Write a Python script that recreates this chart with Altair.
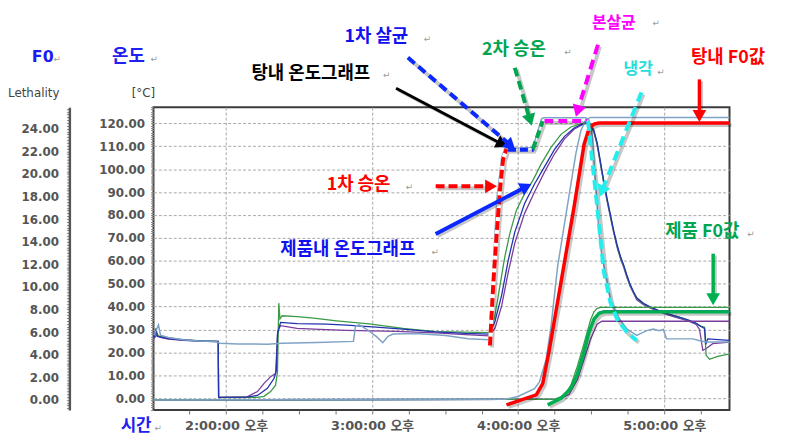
import altair as alt
import pandas as pd

# ---------------- axis ticks ----------------
hour_ticks = [13.75 + 0.25 * i for i in range(15)]            # every 15 min
temp_ticks = list(range(-5, 128))                              # °C ruler ticks
leth_ticks = [round(-0.75 + 0.25 * i, 2) for i in range(107)]  # lethality ruler ticks

# ---------------- product temperature (°C), time in hours of day ----------------
green_temp_h = [13.507, 13.524, 13.537, 13.605, 13.707, 13.808, 13.910, 13.946, 13.949, 14.079,
                14.215, 14.260, 14.305, 14.339, 14.352, 14.361, 14.369, 14.384, 14.486, 14.599,
                14.757, 14.981, 15.211, 15.435, 15.638, 15.801, 15.841, 15.875, 15.909, 15.943,
                15.988, 16.044, 16.101, 16.158, 16.225, 16.293, 16.361, 16.429, 16.473, 16.496,
                16.519, 16.541, 16.564, 16.587, 16.609, 16.632, 16.654, 16.677, 16.700, 16.722,
                16.744, 16.767, 16.790, 16.812, 16.858, 16.903, 16.959, 17.016, 17.068, 17.129,
                17.176, 17.219, 17.251, 17.276, 17.287, 17.310, 17.366, 17.447]
green_temp_c = [27.0, 28.5, 27.2, 26.3, 25.6, 25.1, 24.9, 24.8, 0.4, 0.3,
                0.4, 0.8, 2.9, 5.7, 11.5, 41.5, 34.6, 36.0, 35.6, 35.0,
                33.8, 32.4, 30.5, 29.1, 28.8, 28.6, 36.0, 49.0, 61.9, 72.0,
                82.1, 89.3, 95.1, 102.3, 109.5, 115.2, 118.4, 119.8, 120.4, 119.6,
                116.5, 111.0, 102.5, 94.0, 86.5, 79.5, 72.8, 66.5, 61.5, 57.8,
                53.3, 49.3, 46.2, 43.5, 41.2, 39.8, 38.3, 37.0, 35.9, 34.8,
                33.8, 32.6, 31.5, 31.0, 18.7, 17.0, 18.3, 19.4]

blue_temp_h = [13.507, 13.520, 13.530, 13.605, 13.707, 13.808, 13.910, 13.946, 13.949, 14.147,
               14.215, 14.283, 14.328, 14.344, 14.352, 14.373, 14.486, 14.689, 14.825, 15.028,
               15.211, 15.435, 15.638, 15.801, 15.841, 15.887, 15.931, 15.977, 16.044, 16.112,
               16.180, 16.248, 16.316, 16.383, 16.451, 16.473, 16.496, 16.519, 16.541, 16.564,
               16.587, 16.609, 16.632, 16.654, 16.677, 16.700, 16.722, 16.744, 16.767, 16.790,
               16.812, 16.858, 16.903, 16.959, 17.016, 17.068, 17.129, 17.176, 17.219, 17.251,
               17.276, 17.285, 17.298, 17.447]
blue_temp_c = [26.5, 30.5, 27.0, 26.0, 25.4, 25.0, 24.9, 24.8, 0.4, 0.5,
               1.2, 4.3, 8.6, 12.0, 28.0, 33.1, 32.6, 32.3, 31.9, 31.0,
               30.2, 29.0, 28.3, 28.0, 33.5, 45.0, 60.0, 72.5, 85.0, 93.5,
               101.0, 108.5, 114.2, 118.0, 120.0, 120.4, 119.5, 116.8, 111.5, 103.0,
               94.5, 87.0, 80.0, 73.2, 67.0, 62.0, 58.2, 53.8, 49.6, 46.5,
               43.8, 41.4, 39.9, 38.4, 37.1, 36.0, 34.9, 33.9, 32.7, 31.3,
               30.5, 23.5, 25.9, 25.2]

purple_temp_h = [13.507, 13.524, 13.551, 13.605, 13.707, 13.808, 13.910, 13.946, 13.949, 14.147,
                 14.215, 14.260, 14.305, 14.339, 14.354, 14.373, 14.486, 14.644, 14.825, 15.164,
                 15.435, 15.638, 15.801, 15.841, 15.887, 15.931, 15.977, 16.044, 16.112, 16.180,
                 16.248, 16.316, 16.383, 16.451, 16.473, 16.496, 16.519, 16.541, 16.564, 16.587,
                 16.609, 16.632, 16.654, 16.677, 16.700, 16.722, 16.744, 16.767, 16.790, 16.812,
                 16.858, 16.903, 16.959, 17.016, 17.068, 17.129, 17.176, 17.219, 17.242, 17.264,
                 17.285, 17.332, 17.447]
purple_temp_c = [26.0, 27.5, 26.5, 25.8, 25.3, 24.9, 24.7, 24.6, 0.3, 0.7,
                 2.9, 6.5, 9.4, 10.8, 29.5, 31.7, 30.5, 30.0, 29.6, 29.2,
                 28.5, 27.8, 27.2, 30.5, 40.3, 54.7, 67.7, 80.7, 90.0, 98.7,
                 106.6, 113.1, 117.4, 119.8, 120.3, 119.4, 116.0, 110.5, 102.0, 93.5,
                 86.0, 79.0, 72.3, 66.0, 61.0, 57.3, 52.8, 48.8, 45.8, 43.0,
                 40.8, 39.4, 37.9, 36.6, 35.5, 34.4, 33.4, 32.2, 30.0, 20.9,
                 21.6, 23.8, 24.5]

# ---------------- retort (tank) temperature (°C) ----------------
tank_temp_h = [13.507, 13.524, 13.537, 13.551, 13.605, 13.707, 13.808, 13.930, 13.957, 14.079,
               14.283, 14.384, 14.621, 14.872, 14.886, 14.913, 14.960, 15.028, 15.073, 15.109,
               15.143, 15.299, 15.502, 15.658, 15.801, 15.830, 15.853, 15.887, 15.909, 16.101,
               16.160, 16.173, 16.465, 16.485, 16.507, 16.530, 16.553, 16.573, 16.598, 16.632,
               16.677, 16.744, 16.812, 16.844, 16.880, 16.925, 16.966, 16.993, 17.016, 17.197,
               17.237, 17.287, 17.447]
tank_temp_c = [27.5, 30.0, 32.0, 27.5, 26.5, 25.5, 25.0, 24.8, 24.0, 23.7,
               23.6, 24.0, 24.3, 24.8, 31.5, 32.0, 30.2, 27.0, 24.2, 27.0,
               28.0, 28.2, 27.4, 26.0, 25.5, 57.6, 86.4, 105.1, 109.0, 109.5,
               122.0, 122.4, 122.4, 121.5, 115.0, 93.6, 72.0, 62.0, 54.7, 43.2,
               36.0, 30.2, 27.4, 28.4, 29.5, 30.2, 29.5, 30.0, 25.9, 25.9,
               25.2, 24.5, 24.5]

# ---------------- F0 / lethality ----------------
tank_f0_h = [13.503, 15.909, 15.999, 16.112, 16.146, 16.192, 16.225, 16.270, 16.316, 16.361,
             16.395, 16.429, 16.463, 16.496, 17.447]
tank_f0_l = [0.0, 0.05, 0.3, 1.0, 1.6, 3.6, 6.5, 11.8, 15.5, 19.1,
             21.8, 23.8, 24.8, 25.0, 25.0]
green_f0_h = [13.503, 16.248, 16.316, 16.361, 16.406, 16.451, 16.496, 16.519, 16.541, 16.564, 17.447]
green_f0_l = [0.0, 0.05, 0.4, 1.3, 3.0, 5.0, 7.1, 7.8, 8.1, 8.18, 8.18]
blue_f0_h = [13.503, 16.261, 16.329, 16.383, 16.429, 16.473, 16.519, 16.553, 16.587, 17.447]
blue_f0_l = [0.0, 0.05, 0.5, 1.6, 3.5, 5.6, 7.2, 7.75, 7.88, 7.88]
purple_f0_h = [13.503, 16.282, 16.349, 16.406, 16.451, 16.496, 16.541, 16.573, 17.447]
purple_f0_l = [0.0, 0.05, 0.5, 1.8, 3.6, 5.4, 6.7, 6.96, 6.96]

# hand-drawn highlight of the tank F0 and product F0 curves (lethality)
mark_tank_f0_h = [15.920, 16.124, 16.168, 16.214, 16.293, 16.383, 16.451, 16.485, 16.519, 16.553, 17.447]
mark_tank_f0_l = [-0.44, 0.44, 1.45, 4.5, 10.4, 17.1, 22.6, 24.0, 24.4, 24.5, 24.5]
mark_prod_f0_h = [16.202, 16.293, 16.361, 16.406, 16.451, 16.485, 16.519, 16.553, 16.587, 17.447]
mark_prod_f0_l = [-0.44, 0.15, 1.0, 2.3, 4.24, 6.0, 7.15, 7.65, 7.79, 7.79]

# hand-drawn phase highlights (°C)
heat1_h = [15.807, 15.830, 15.853, 15.875, 15.897, 15.920]
heat1_c = [23.0, 50.4, 72.0, 90.8, 104.4, 108.8]
steril1_h = [15.931, 16.107]
steril1_c = [108.5, 108.5]
heat2_h = [16.101, 16.168]
heat2_c = [108.8, 121.0]
main_h = [16.180, 16.473]
main_c = [121.0, 121.0]
cool_h = [16.478, 16.507, 16.539, 16.563, 16.587, 16.632, 16.677, 16.744, 16.812]
cool_c = [121.0, 103.7, 85.0, 70.0, 55.0, 41.8, 34.6, 28.8, 25.2]

# arrows (shaft start, shaft end, head centre) in hours / °C
arrow_names = ["tank_temp", "steril1", "heat2", "main", "cool", "heat1", "prod_temp", "tank_f0", "prod_f0"]
arrow_h0 = [15.164, 15.245, 15.977, 16.546, 16.844, 15.435, 15.435, 17.241, 17.335]
arrow_c0 = [135.3, 148.7, 144.3, 154.3, 133.5, 92.5, 71.7, 139.2, 63.1]
arrow_h1 = [15.891, 15.929, 16.075, 16.410, 16.580, 15.801, 16.044, 17.241, 17.335]
arrow_c1 = [110.9, 111.5, 122.7, 126.2, 91.6, 92.5, 92.0, 124.5, 44.1]
head_h = [15.891, 15.950, 16.082, 16.407, 16.573, 15.814, 16.055, 17.241, 17.335]
head_c = [110.9, 110.2, 121.4, 125.3, 90.3, 92.5, 92.4, 123.2, 43.2]

# text labels (left edge / middle), hours / °C
label_text = ["F0", "온도", "Lethality", "[°C]", "시간", "탕내 온도그래프", "1차 살균", "2차 승온",
              "본살균", "냉각", "탕내 F0값", "1차 승온", "제품내 온도그래프", "제품 F0값"]
label_h = [12.670, 13.219, 12.507, 13.354, 13.490, 14.174, 14.811, 15.753,
           16.505, 16.722, 17.183, 14.689, 14.371, 17.007]
label_c = [149.1, 149.1, 133.1, 133.1, -12.1, 141.7, 157.7, 152.1,
           164.0, 143.5, 148.7, 92.9, 64.8, 72.6]
para_h = [12.819, 13.483, 15.075, 15.353, 16.316, 16.919, 16.953, 15.231, 15.407, 17.569, 13.510]
para_c = [148.2, 148.2, 140.9, 156.9, 151.3, 164.0, 142.6, 92.0, 64.0, 71.7, -13.0]

# ---------------- styles ----------------
C_GREEN, C_BLUE, C_PURPLE, C_STEEL = "#3a9a45", "#2233b0", "#7b3c9e", "#7fa3c5"
arrow_style = {
    "tank_temp": dict(color="#000000", dash=None, width=3, angle=28),
    "steril1": dict(color="#0a28ff", dash=[9, 5], width=4, angle=41),
    "heat2": dict(color="#00a550", dash=[9, 5], width=4, angle=74),
    "main": dict(color="#ff00ff", dash=[10, 6], width=4, angle=107),
    "cool": dict(color="#22eeee", dash=[10, 6], width=4, angle=112),
    "heat1": dict(color="#ff0000", dash=[9, 4], width=4, angle=0),
    "prod_temp": dict(color="#0a28ff", dash=None, width=4, angle=333),
    "tank_f0": dict(color="#ff0000", dash=None, width=3.5, angle=90),
    "prod_f0": dict(color="#00b050", dash=None, width=3.5, angle=90),
}
KO = "Noto Sans CJK KR"
label_style = {
    "F0": dict(color="#1c1cf0", font="DejaVu Sans", size=16, weight="bold", align="left"),
    "온도": dict(color="#2020f0", font=KO, size=18, weight="bold", align="left"),
    "Lethality": dict(color="#444444", font="DejaVu Sans", size=12, weight="normal", align="left"),
    "[°C]": dict(color="#444444", font="DejaVu Sans", size=12, weight="normal", align="left"),
    "시간": dict(color="#2020f0", font=KO, size=17, weight="bold", align="right"),
    "탕내 온도그래프": dict(color="#000000", font=KO, size=18, weight="bold", align="left"),
    "1차 살균": dict(color="#1010f0", font=KO, size=18, weight="bold", align="left"),
    "2차 승온": dict(color="#00a550", font=KO, size=18, weight="bold", align="left"),
    "본살균": dict(color="#ff00ff", font=KO, size=16, weight="bold", align="left"),
    "냉각": dict(color="#22dddd", font=KO, size=16, weight="bold", align="left"),
    "탕내 F0값": dict(color="#ff0000", font=KO, size=18, weight="bold", align="left"),
    "1차 승온": dict(color="#ff0000", font=KO, size=18, weight="bold", align="left"),
    "제품내 온도그래프": dict(color="#1010f0", font=KO, size=18, weight="bold", align="left"),
    "제품 F0값": dict(color="#00a550", font=KO, size=18, weight="bold", align="left"),
}

# ---------------- scales & axes ----------------
XS = alt.Scale(domain=[13.503, 17.447], nice=False, zero=False)
TS = alt.Scale(domain=[-5.19, 127.04], nice=False, zero=False)
LS = alt.Scale(domain=[-0.90, 25.90], nice=False, zero=False)
LABEL_FONT = "DejaVu Sans, Noto Sans CJK KR"

x_axis = alt.Axis(values=hour_ticks, title=None, domain=False,
                  labelExpr="datum.value % 1 == 0 ? (datum.value - 12) + ':00:00 오후' : ''",
                  grid=True, gridDash=[3, 2], gridColor="#a8a8a8",
                  gridOpacity={"condition": {"test": "datum.value % 1 == 0", "value": 1}, "value": 0},
                  tickSize=4, tickColor="#777777", labelPadding=6, labelFont=LABEL_FONT,
                  labelFontSize=13, labelFontWeight="bold", labelColor="#555555",
                  labelOverlap=False, labelFlush=False)
t_axis = alt.Axis(values=temp_ticks, title=None, domain=False, orient="left",
                  labelExpr="datum.value % 10 == 0 && datum.value >= 0 ? format(datum.value, '.2f') : ''",
                  grid=True, gridDash=[3, 2], gridColor="#a8a8a8",
                  gridOpacity={"condition": {"test": "datum.value % 10 == 0 && datum.value >= 0", "value": 1}, "value": 0},
                  tickSize=3, tickColor="#888888", labelPadding=6, labelFont=LABEL_FONT,
                  labelFontSize=12, labelFontWeight="bold", labelColor="#555555",
                  labelOverlap=False, labelFlush=False)
l_axis = alt.Axis(values=leth_ticks, title=None, orient="left", offset=85,
                  labelExpr="datum.value % 2 == 0 && datum.value >= 0 && datum.value <= 24 ? format(datum.value, '.2f') : ''",
                  grid=False, domain=True, domainColor="#555555", domainWidth=2.5,
                  tickSize=3, tickColor="#888888", labelPadding=8, labelFont=LABEL_FONT,
                  labelFontSize=12, labelFontWeight="bold", labelColor="#555555",
                  labelOverlap=False, labelFlush=False)


def X(f="h"):
    return alt.X(f, type="quantitative", scale=XS, axis=x_axis)


def YT(f="v", axis=None):
    return alt.Y(f, type="quantitative", scale=TS, axis=axis)


def YL(f="v", axis=None):
    return alt.Y(f, type="quantitative", scale=LS, axis=axis)


def mk(h, v):
    assert len(h) == len(v), (len(h), len(v))
    return pd.DataFrame({"h": h, "v": v, "i": list(range(len(h)))})


def line(df, y, color, width=1.3, dash=None, opacity=1.0, off=0):
    kw = dict(color=color, strokeWidth=width, opacity=opacity)
    if dash:
        kw["strokeDash"] = dash
    if off:
        kw["xOffset"] = off
        kw["yOffset"] = off
    return alt.Chart(df).mark_line(**kw).encode(x=X(), y=y, order="i:Q")


layers = []
# product temperatures
layers.append(line(mk(purple_temp_h, purple_temp_c), YT(), C_PURPLE))
layers.append(line(mk(green_temp_h, green_temp_c), YT(), C_GREEN))
layers.append(line(mk(blue_temp_h, blue_temp_c), YT(), C_BLUE))
# tank temperature (carries the °C axis)
layers.append(line(mk(tank_temp_h, tank_temp_c), YT(axis=t_axis), C_STEEL, width=1.5))

# F0 curves
layers.append(line(mk(purple_f0_h, purple_f0_l), YL(), C_PURPLE))
layers.append(line(mk(blue_f0_h, blue_f0_l), YL(), C_BLUE))
layers.append(line(mk(green_f0_h, green_f0_l), YL(), C_GREEN))
layers.append(line(mk(tank_f0_h, tank_f0_l), YL(axis=l_axis), C_STEEL, width=1.5))

# hand-drawn highlights: shadows first
shadow = dict(color="#000000", opacity=0.22, off=2)
layers.append(line(mk(mark_tank_f0_h, mark_tank_f0_l), YL(), width=4, **shadow))
layers.append(line(mk(mark_prod_f0_h, mark_prod_f0_l), YL(), width=4, **shadow))
for hh, cc in [(heat1_h, heat1_c), (steril1_h, steril1_c), (heat2_h, heat2_c), (main_h, main_c), (cool_h, cool_c)]:
    layers.append(line(mk(hh, cc), YT(), width=4, **shadow))

layers.append(line(mk(mark_tank_f0_h, mark_tank_f0_l), YL(), "#ff0000", width=3.5))
layers.append(line(mk(mark_prod_f0_h, mark_prod_f0_l), YL(), "#00b050", width=3.5))
layers.append(line(mk(heat1_h, heat1_c), YT(), "#ffffff", width=4))
layers.append(line(mk(heat1_h, heat1_c), YT(), "#ff0000", width=4, dash=[9, 4]))
layers.append(line(mk(steril1_h, steril1_c), YT(), "#0a28ff", width=4, dash=[8, 4]))
layers.append(line(mk(heat2_h, heat2_c), YT(), "#00a550", width=4, dash=[8, 4]))
layers.append(line(mk(main_h, main_c), YT(), "#ff00ff", width=4, dash=[9, 5]))
layers.append(line(mk(cool_h, cool_c), YT(), "#22eeee", width=4, dash=[10, 5]))

# arrows
for k, name in enumerate(arrow_names):
    st = arrow_style[name]
    shaft = mk([arrow_h0[k], arrow_h1[k]], [arrow_c0[k], arrow_c1[k]])
    layers.append(line(shaft, YT(), width=st["width"], **shadow))
    layers.append(line(shaft, YT(), st["color"], width=st["width"], dash=st["dash"]))
    head = pd.DataFrame({"h": [head_h[k]], "v": [head_c[k]]})
    layers.append(alt.Chart(head).mark_point(
        shape="triangle-right", filled=True, size=190, opacity=1,
        color=st["color"], angle=st["angle"]).encode(x=X(), y=YT()))

# text labels
for k, t in enumerate(label_text):
    st = label_style[t]
    d = pd.DataFrame({"h": [label_h[k]], "v": [label_c[k]], "t": [t]})
    layers.append(alt.Chart(d).mark_text(
        align=st["align"], baseline="middle", font=st["font"], fontSize=st["size"],
        fontWeight=st["weight"], color=st["color"]).encode(x=X(), y=YT(), text="t:N"))
para = pd.DataFrame({"h": para_h, "v": para_c, "t": ["↵"] * len(para_h)})
layers.append(alt.Chart(para).mark_text(align="left", baseline="middle", font="DejaVu Sans",
                                        fontSize=9, color="#9a9a9a").encode(x=X(), y=YT(), text="t:N"))

chart = alt.layer(*layers).resolve_scale(y="independent").properties(
    width=582, height=306,
    autosize=alt.AutoSizeParams(type="none"),
    padding={"left": 147, "top": 98, "right": 49, "bottom": 30},
).configure_view(stroke="#3c3c3c", strokeWidth=2)

chart.save("out.html", embed_options={"renderer": "svg", "actions": False})
